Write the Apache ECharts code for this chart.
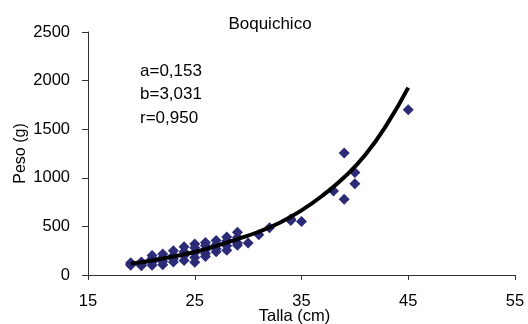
<!DOCTYPE html>
<html>
<head>
<meta charset="utf-8">
<script src="https://cdn.jsdelivr.net/npm/echarts@6/dist/echarts.min.js"></script>
<style>
  html, body { margin: 0; padding: 0; background: #fff; }
  #chartDiv { width: 528px; height: 324px; }
</style>
</head>
<body>
<div id="chartDiv"></div>
<script>
// talla (cm) y peso (g) observados
const tallas = [19, 19, 19, 20, 20, 20, 20, 21, 21, 21, 21, 22, 22, 22, 22, 23, 23, 23, 23,
    24, 24, 24, 24, 25, 25, 25, 25, 25, 26, 26, 26, 26, 26, 27, 27, 27, 27, 28, 28, 28, 28,
    29, 29, 29, 29, 30, 31, 32, 34, 34, 35, 38, 39, 39, 40, 40, 45];
const pesos = [110, 125, 100, 95, 120, 135, 110, 100, 130, 170, 200, 105, 140, 180, 215, 135, 165, 200, 250,
    150, 200, 240, 290, 130, 180, 230, 280, 320, 190, 220, 260, 300, 335, 240, 270, 310, 355, 255, 300, 350, 390,
    305, 330, 385, 440, 330, 415, 485, 560, 575, 550, 865, 1255, 780, 1055, 940, 1700];

// curva ajustada
const curvaX = [19, 21, 23, 25, 27, 29, 31, 33, 35, 37, 39, 41, 43, 45];
const curvaY = [117, 150, 190, 237, 300, 370, 445, 540, 665, 820, 1005, 1240, 1550, 1928];

const xTicks = [15, 25, 35, 45, 55];
const yTicks = [0, 500, 1000, 1500, 2000, 2500];
const anotaciones = ["a=0,153", "b=3,031", "r=0,950"];

let chart = echarts.init(document.getElementById("chartDiv"));

const puntos = tallas.map((t, i) => [t, pesos[i]]);
const curva = curvaX.map((t, i) => [t, curvaY[i]]);

const fuente = "Liberation Sans, Arial, sans-serif";

let options = {
    animation: false,
    title: {
        text: "Boquichico",
        left: 265,
        top: 11,
        textAlign: "center",
        textStyle: {
            color: "#000",
            fontSize: 17,
            fontWeight: "normal",
            fontFamily: fuente,
        },
    },
    grid: {
        left: 88,
        right: 13,
        top: 32,
        bottom: 49,
        outerBoundsMode: "none",
        containLabel: false,
    },
    xAxis: {
        type: "value",
        min: xTicks[0],
        max: xTicks[xTicks.length - 1],
        interval: 10,
        name: "Talla (cm)",
        nameLocation: "middle",
        nameGap: 33,
        nameMoveOverlap: false,
        nameTextStyle: {
            color: "#000",
            fontSize: 16.5,
            fontFamily: fuente,
            padding: [0, 14, 0, 0],
        },
        splitLine: { show: false },
        axisLine: { lineStyle: { color: "#333", width: 1 } },
        axisTick: { show: true, length: 5, lineStyle: { color: "#333" } },
        axisLabel: {
            color: "#000",
            fontSize: 16.5,
            fontFamily: fuente,
            margin: 18,
        },
    },
    yAxis: {
        type: "value",
        min: yTicks[0],
        max: yTicks[yTicks.length - 1],
        interval: 500,
        name: "Peso (g)",
        nameLocation: "middle",
        nameGap: 59,
        nameMoveOverlap: false,
        nameTextStyle: {
            color: "#000",
            fontSize: 16,
            fontFamily: fuente,
        },
        splitLine: { show: false },
        axisLine: { show: true, lineStyle: { color: "#333", width: 1 } },
        axisTick: { show: true, length: 6, lineStyle: { color: "#333" } },
        axisLabel: {
            color: "#000",
            fontSize: 16.5,
            fontFamily: fuente,
            margin: 18,
            formatter: (v) => String(v),
        },
    },
    graphic: anotaciones.map((t, i) => ({
        type: "text",
        left: 140,
        top: 63 + i * 23.3,
        style: {
            text: t,
            fill: "#000",
            fontSize: 17,
            fontFamily: fuente,
        },
    })),
    series: [
        {
            type: "scatter",
            data: puntos,
            symbol: "diamond",
            symbolSize: 11,
            itemStyle: { color: "#2b2b78", opacity: 1 },
            z: 2,
        },
        {
            type: "line",
            data: curva,
            smooth: true,
            showSymbol: false,
            lineStyle: { color: "#000", width: 4 },
            z: 3,
        },
    ],
};
chart.setOption(options);
</script>
</body>
</html>
